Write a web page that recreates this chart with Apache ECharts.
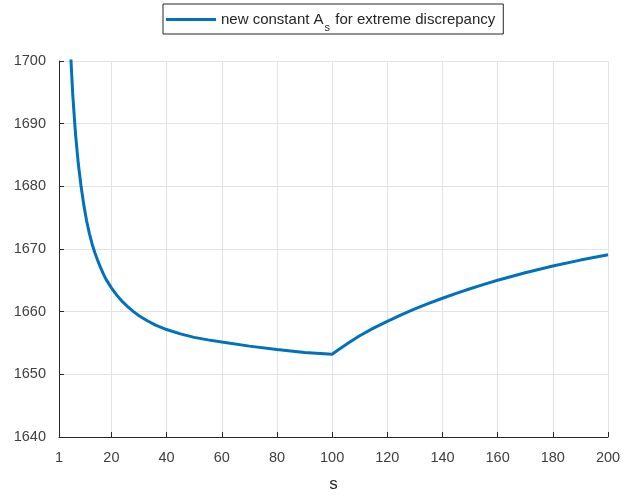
<!DOCTYPE html>
<html>
<head>
<meta charset="utf-8">
<script src="https://cdn.jsdelivr.net/npm/echarts@6/dist/echarts.min.js"></script>
<style>html,body{margin:0;padding:0;background:#fff;}#c{width:626px;height:498px;}</style>
</head>
<body>
<div id="c"></div>
<script>
const sValues = [4, 5, 6, 7, 8, 9, 10, 11, 12, 13, 14, 15, 16, 17, 18, 20, 22, 24, 26, 28, 30, 33, 36, 40, 45, 50, 55, 60, 70, 80, 90, 100, 102, 104, 106, 108, 110, 115, 120, 125, 130, 135, 140, 145, 150, 155, 160, 170, 180, 190, 200];
const aValues = [1716, 1703, 1694.5, 1688.3, 1683.6, 1680.0, 1677.0, 1674.5, 1672.5, 1670.8, 1669.4, 1668.2, 1667.1, 1666.1, 1665.2, 1663.8, 1662.6, 1661.6, 1660.75, 1660.0, 1659.35, 1658.55, 1657.85, 1657.15, 1656.45, 1655.9, 1655.5, 1655.15, 1654.5, 1653.95, 1653.5, 1653.2, 1653.83, 1654.44, 1655.03, 1655.6, 1656.15, 1657.38, 1658.45, 1659.48, 1660.43, 1661.31, 1662.14, 1662.91, 1663.65, 1664.35, 1665.01, 1666.21, 1667.28, 1668.23, 1669.08];
const xTicks = [1, 20, 40, 60, 80, 100, 120, 140, 160, 180, 200];
const yTicks = [1640, 1650, 1660, 1670, 1680, 1690, 1700];
const seriesName = 'new constant A_s for extreme discrepancy';

const chart = echarts.init(document.getElementById('c'), null, {renderer: 'canvas'});
const font = '"Liberation Sans", Arial, Helvetica, sans-serif';
chart.setOption({
  animation: false,
  backgroundColor: '#ffffff',
  grid: {left: 59, right: 18, top: 61, bottom: 51, containLabel: false},
  legend: {
    left: 163, top: 4,
    padding: [2, 8, 1, 3],
    borderColor: '#262626', borderWidth: 1, backgroundColor: '#fff',
    itemWidth: 50, itemHeight: 3, icon: 'rect', itemGap: 5,
    formatter: function () { return '{a|new constant A}{sub|s}{a| for extreme discrepancy}'; },
    textStyle: {
      fontFamily: font, color: '#262626', fontSize: 15,
      rich: {
        a: {fontFamily: font, fontSize: 15, lineHeight: 18, color: '#262626'},
        sub: {fontFamily: font, fontSize: 11, lineHeight: 11, color: '#262626', padding: [16, 1, 0, 1]}
      }
    },
    data: [seriesName]
  },
  xAxis: {
    type: 'value', min: 1, max: 200,
    name: 's', nameLocation: 'middle', nameGap: 39,
    nameTextStyle: {fontFamily: font, fontSize: 17, color: '#262626'},
    axisLine: {show: true, onZero: false, lineStyle: {color: '#262626', width: 1}},
    axisTick: {show: true, inside: true, length: 5, customValues: xTicks, lineStyle: {color: '#262626'}},
    axisLabel: {customValues: xTicks, margin: 13, fontFamily: font, fontSize: 14.5, color: '#404040'},
    splitLine: {show: true, lineStyle: {color: '#e3e3e3', width: 1}}
  },
  yAxis: {
    type: 'value', min: yTicks[0], max: yTicks[yTicks.length - 1], interval: 10,
    axisLine: {show: true, lineStyle: {color: '#262626', width: 1}},
    axisTick: {show: true, inside: true, length: 5, lineStyle: {color: '#262626'}},
    axisLabel: {margin: 13, fontFamily: font, fontSize: 14.5, color: '#404040', formatter: v => String(v)},
    splitLine: {show: true, lineStyle: {color: '#e3e3e3', width: 1}}
  },
  series: [{
    name: seriesName, type: 'line',
    data: sValues.map((s, i) => [s, aValues[i]]),
    showSymbol: false, symbol: 'none', clip: true,
    lineStyle: {color: '#0072BD', width: 3},
    itemStyle: {color: '#0072BD'}
  }]
});
</script>
</body>
</html>
